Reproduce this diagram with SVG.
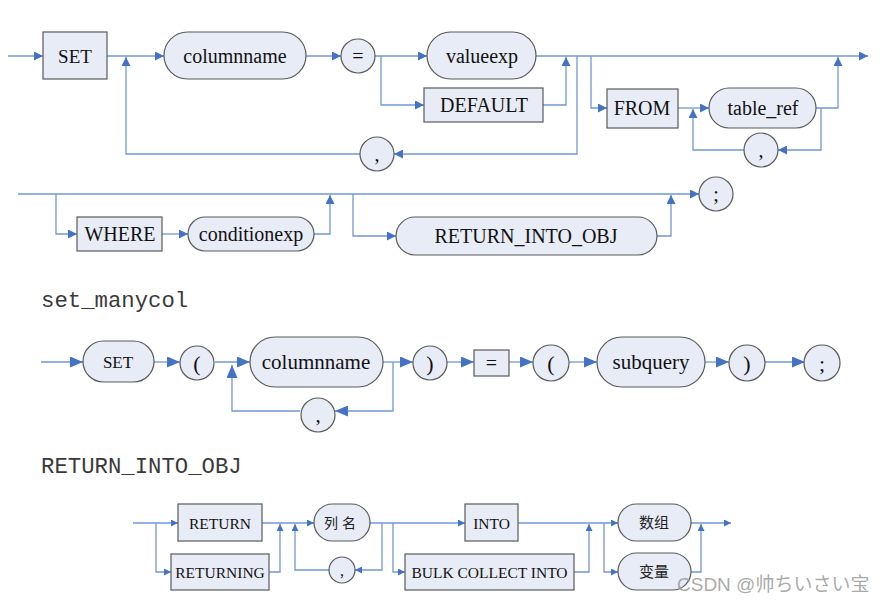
<svg xmlns="http://www.w3.org/2000/svg" width="884" height="604" viewBox="0 0 884 604">
<style>
.n{fill:#e8ecf7;stroke:#5a5a5a;stroke-width:1.2}
.t{font-family:"Liberation Serif","Times New Roman",serif;fill:#111;text-anchor:middle;dominant-baseline:central}
.c{font-family:"Liberation Serif","Noto Sans CJK SC",serif;fill:#222;text-anchor:middle;dominant-baseline:central}
.l{fill:none;stroke:#7098d4;stroke-width:1.3}
.lab{font-family:"Liberation Mono","Courier New",monospace;font-size:22.3px;fill:#3a3a3a}
</style>
<defs>
<marker id="a" markerUnits="userSpaceOnUse" markerWidth="10" markerHeight="9" refX="9" refY="4.5" orient="auto"><path d="M0,0 L9,4.5 L0,9 Z" fill="#4472c4"/></marker>
<marker id="b" markerUnits="userSpaceOnUse" markerWidth="14" markerHeight="11" refX="13" refY="5.5" orient="auto"><path d="M0,0 L13,5.5 L0,11 Z" fill="#4472c4"/></marker>
<marker id="s" markerUnits="userSpaceOnUse" markerWidth="8" markerHeight="7" refX="7" refY="3.5" orient="auto"><path d="M0,0 L7,3.5 L0,7 Z" fill="#4472c4"/></marker>
</defs>
<rect width="884" height="604" fill="#fff"/>

<g id="connectors">
<g marker-end="url(#a)">
<path class="l" d="M8,56 H43"/>
<path class="l" d="M107,56 H164"/>
<path class="l" d="M306,56 H341"/>
<path class="l" d="M375,56 H427"/>
<path class="l" d="M381,56 V105 H424"/>
<path class="l" d="M543,105 H566 V57"/>
<path class="l" d="M536,56 H868"/>
<path class="l" d="M577,56 V154 H394"/>
<path class="l" d="M360,154 H126 V57"/>
<path class="l" d="M591,56 V108 H607"/>
<path class="l" d="M678,108 H709"/>
<path class="l" d="M816,108 H838 V57"/>
<path class="l" d="M821,108 V150 H778"/>
<path class="l" d="M744,150 H693 V109"/>
<path class="l" d="M18,194 H699"/>
<path class="l" d="M56,194 V234 H77"/>
<path class="l" d="M162,234 H188"/>
<path class="l" d="M314,234 H330 V195"/>
<path class="l" d="M353,194 V236 H396"/>
<path class="l" d="M657,236 H671 V195"/>
</g>
<g marker-end="url(#b)">
<path class="l" d="M41,362 H83"/>
<path class="l" d="M154,362 H180"/>
<path class="l" d="M215,362 H250"/>
<path class="l" d="M383,362 H413"/>
<path class="l" d="M393,362 V411 H335"/>
<path class="l" d="M300,411 H232 V365"/>
<path class="l" d="M447,362 H474"/>
<path class="l" d="M509,362 H533"/>
<path class="l" d="M569,362 H597"/>
<path class="l" d="M705,362 H729"/>
<path class="l" d="M765,362 H805"/>
</g>
<g marker-end="url(#s)">
<path class="l" d="M133,523 H178"/>
<path class="l" d="M156,523 V572 H171"/>
<path class="l" d="M269,572 H280 V524"/>
<path class="l" d="M262,523 H314"/>
<path class="l" d="M370,523 H465"/>
<path class="l" d="M382,523 V570 H355"/>
<path class="l" d="M329,570 H295 V524"/>
<path class="l" d="M393,523 V572 H405"/>
<path class="l" d="M518,523 H618"/>
<path class="l" d="M574,572 H589 V524"/>
<path class="l" d="M604,523 V572 H618"/>
<path class="l" d="M691,523 H731"/>
<path class="l" d="M691,572 H701 V524"/>
</g>
</g>

<g id="n_set1"><rect class="n" x="43" y="32" width="64" height="47"/><text class="t" x="75" y="56" font-size="19">SET</text></g>
<g id="n_columnname1"><rect class="n" x="164" y="32" width="142" height="47" rx="23.5"/><text class="t" x="235" y="56" font-size="20">columnname</text></g>
<g id="n_eq1"><circle class="n" cx="358" cy="56" r="17"/><text class="t" x="358" y="56" font-size="20">=</text></g>
<g id="n_valueexp"><rect class="n" x="427" y="32" width="109" height="47" rx="23.5"/><text class="t" x="482" y="56" font-size="20">valueexp</text></g>
<g id="n_default"><rect class="n" x="424" y="88" width="119" height="34"/><text class="t" x="484" y="105" font-size="20">DEFAULT</text></g>
<g id="n_comma1"><circle class="n" cx="377" cy="154" r="17"/><text class="t" x="377" y="154" font-size="20">,</text></g>
<g id="n_from"><rect class="n" x="607" y="89" width="71" height="39"/><text class="t" x="642" y="108" font-size="20">FROM</text></g>
<g id="n_tableref"><rect class="n" x="709" y="88" width="107" height="40" rx="20"/><text class="t" x="763" y="108" font-size="20">table_ref</text></g>
<g id="n_comma2"><circle class="n" cx="761" cy="150" r="17"/><text class="t" x="761" y="150" font-size="20">,</text></g>

<g id="n_where"><rect class="n" x="77" y="217" width="85" height="34"/><text class="t" x="120" y="234" font-size="20">WHERE</text></g>
<g id="n_conditionexp"><rect class="n" x="188" y="217" width="126" height="34" rx="17"/><text class="t" x="251" y="234" font-size="20">conditionexp</text></g>
<g id="n_rio"><rect class="n" x="396" y="217" width="261" height="38" rx="19"/><text class="t" x="526" y="236" font-size="20">RETURN_INTO_OBJ</text></g>
<g id="n_semi1"><circle class="n" cx="716" cy="194" r="17"/><text class="t" x="716" y="194" font-size="20">;</text></g>

<text class="lab" x="41" y="307">set_manycol</text>

<g id="n_set2"><rect class="n" x="83" y="341" width="71" height="41" rx="20.5"/><text class="t" x="118" y="362" font-size="17">SET</text></g>
<g id="n_lp1"><circle class="n" cx="197" cy="363" r="17"/><text class="t" x="197" y="363" font-size="22">(</text></g>
<g id="n_columnname2"><rect class="n" x="250" y="337" width="133" height="50" rx="25"/><text class="t" x="316" y="362" font-size="21">columnname</text></g>
<g id="n_comma3"><circle class="n" cx="318" cy="415" r="17"/><text class="t" x="318" y="415" font-size="21">,</text></g>
<g id="n_rp1"><circle class="n" cx="430" cy="363" r="17"/><text class="t" x="430" y="363" font-size="22">)</text></g>
<g id="n_eq2"><rect class="n" x="474" y="350" width="35" height="26"/><text class="t" x="491.5" y="363" font-size="20">=</text></g>
<g id="n_lp2"><circle class="n" cx="551" cy="363" r="18"/><text class="t" x="551" y="363" font-size="22">(</text></g>
<g id="n_subquery"><rect class="n" x="597" y="337" width="108" height="50" rx="25"/><text class="t" x="651" y="362" font-size="21">subquery</text></g>
<g id="n_rp2"><circle class="n" cx="747" cy="363" r="18"/><text class="t" x="747" y="363" font-size="22">)</text></g>
<g id="n_semi2"><circle class="n" cx="822" cy="363" r="18"/><text class="t" x="822" y="363" font-size="22">;</text></g>

<text class="lab" x="41" y="473">RETURN_INTO_OBJ</text>

<g id="n_return"><rect class="n" x="178" y="504" width="84" height="37"/><text class="t" x="220" y="523" font-size="15.5">RETURN</text></g>
<g id="n_returning"><rect class="n" x="171" y="554" width="98" height="36"/><text class="t" x="220" y="572" font-size="15.5">RETURNING</text></g>
<g id="n_liemin"><rect class="n" x="314" y="504" width="56" height="37" rx="18.5"/><text class="c" x="342" y="523" font-size="14" letter-spacing="4">列名</text></g>
<g id="n_comma4"><circle class="n" cx="342" cy="570" r="13"/><text class="t" x="342" y="570" font-size="16">,</text></g>
<g id="n_into"><rect class="n" x="465" y="504" width="53" height="37"/><text class="t" x="491.5" y="523" font-size="15.5">INTO</text></g>
<g id="n_bulk"><rect class="n" x="405" y="554" width="169" height="36"/><text class="t" x="489.5" y="572" font-size="15.5">BULK COLLECT INTO</text></g>
<g id="n_shuzu"><rect class="n" x="618" y="504" width="73" height="37" rx="18.5"/><text class="c" x="654" y="523" font-size="15">数组</text></g>
<g id="n_bianliang"><rect class="n" x="618" y="553" width="73" height="37" rx="18.5"/><text class="c" x="654" y="572" font-size="15">变量</text></g>

<text x="677" y="591" font-family="Liberation Sans,'Noto Sans CJK SC',sans-serif" font-size="19" fill="#9a9a9a" fill-opacity="0.85">CSDN @帅ちいさい宝</text>
</svg>
